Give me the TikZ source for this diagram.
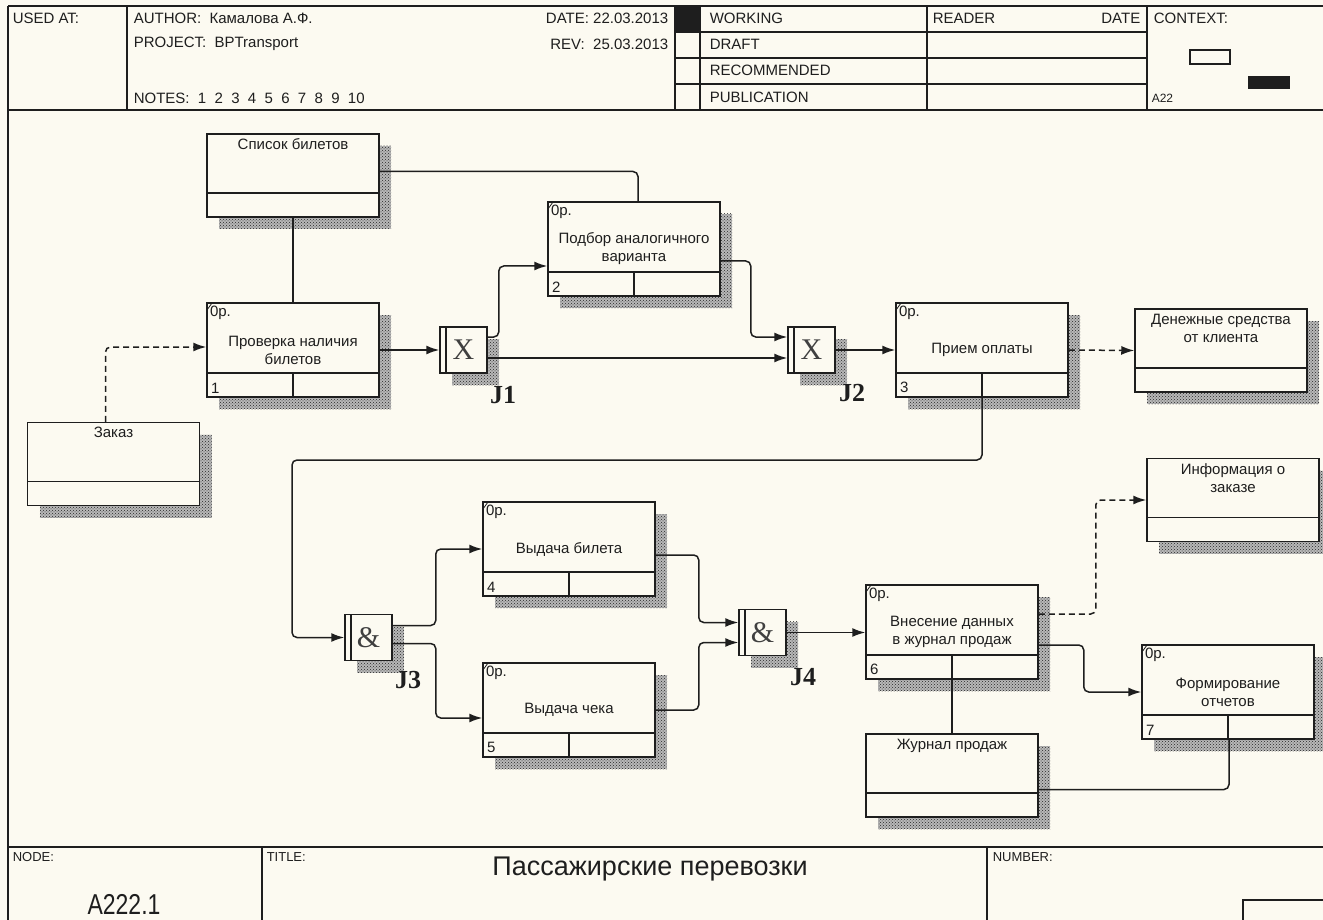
\documentclass[tikz,border=0pt]{standalone}
\usepackage{fontspec}
\usepackage{graphicx}
\setmainfont{Liberation Sans}
\newfontfamily\serf{Liberation Serif}
\usetikzlibrary{arrows.meta,shadows,patterns}
\definecolor{bg}{RGB}{252,250,241}
\definecolor{ln}{RGB}{30,30,30}
\begin{document}
\begin{tikzpicture}[x=1pt,y=-1pt,line width=1.5pt,color=ln]
	\tikzset{
		sh/.style={general shadow={shadow xshift=12pt,shadow yshift=-12pt,fill=black!28},
			general shadow={shadow xshift=12pt,shadow yshift=-12pt,pattern=crosshatch dots,pattern color=black!85}},
		t/.style={font=\fontsize{15}{18}\selectfont,inner sep=0pt},
		act/.style={draw,fill=bg,sh,minimum width=172pt,minimum height=94pt,align=center,t,
			label={[t,anchor=north west,inner sep=3pt]north west:0р.},
			label={[t,anchor=south west,inner sep=4pt]south west:#1},
			path picture={
				\draw ([yshift=24pt]path picture bounding box.south west) -- ([yshift=24pt]path picture bounding box.south east);
				\draw ([yshift=24pt]path picture bounding box.south) -- (path picture bounding box.south);
				\draw[line width=0.8pt] ([yshift=-7pt]path picture bounding box.north west) -- ++(5pt,7pt);
			}},
		ref/.style={draw,fill=bg,sh,minimum width=172pt,minimum height=83pt,
			label={[t,anchor=north,align=center,inner sep=5pt]north:{#1}},
			path picture={
				\draw ([yshift=24pt]path picture bounding box.south west) -- ([yshift=24pt]path picture bounding box.south east);
			}},
		jn/.style={draw,fill=bg,sh,minimum width=47pt,minimum height=46pt,inner sep=0pt,text=black!75,
			font=\serf\fontsize{30}{30}\selectfont,
			path picture={\draw ([xshift=6pt]path picture bounding box.north west) -- ([xshift=6pt]path picture bounding box.south west);}},
		jl/.style={font=\serf\bfseries\fontsize{26}{26}\selectfont,inner sep=0pt},
		f/.style={->,>={Latex[length=13pt,width=9pt]},rounded corners=5pt},
		g/.style={rounded corners=5pt},
		d/.style={f,dash pattern=on 6pt off 4pt}
	}
	\fill[bg] (0,0) rectangle (1323,920);
	\useasboundingbox (0,0) rectangle (1323,920);
	\clip (0,0) rectangle (1323,920);

	\draw (8,6) -- (1323,6);
	\draw (8,6) -- (8,920);
	\draw (8,110) -- (1323,110);
	\draw (127,6) -- (127,110);
	\draw (675,6) -- (675,110);
	\draw (700,6) -- (700,110);
	\draw (927,6) -- (927,110);
	\draw (1147,6) -- (1147,110);
	\foreach \y in {32,58,84} \draw (675,\y) -- (1147,\y);
	\fill (675,6) rectangle (700,32);
	\draw (1190,50) rectangle (1230,64);
	\fill (1248,76) rectangle (1290,89);

	\node[t,anchor=west] (usedat) at (12,18) {USED AT:};
	\node[t,anchor=west] (author) at (133,18) {AUTHOR:~~Камалова А.Ф.};
	\node[t,anchor=west] (project) at (133,44) {PROJECT:~~BPTransport};
	\node[t,anchor=west] (notes) at (133,98) {NOTES:~~1~~2~~3~~4~~5~~6~~7~~8~~9~~10};
	\node[t,anchor=east] (date) at (669,18) {DATE: 22.03.2013};
	\node[t,anchor=east] (rev) at (669,44) {REV:~~25.03.2013};
	\node[t,anchor=west] (working) at (709,18) {WORKING};
	\node[t,anchor=west] (draft) at (709,44) {DRAFT};
	\node[t,anchor=west] (recom) at (709,70) {RECOMMENDED};
	\node[t,anchor=west] (publ) at (709,97) {PUBLICATION};
	\node[t,anchor=west] (reader) at (932,18) {READER};
	\node[t,anchor=east] (rdate) at (1141,18) {DATE};
	\node[t,anchor=west] (context) at (1153,18) {CONTEXT:};
	\node[t,anchor=west,font=\fontsize{12}{14}\selectfont] (ctxnode) at (1151,98) {A22};

	\draw (8,847) -- (1323,847);
	\draw (262,847) -- (262,920);
	\draw (987,847) -- (987,920);
	\draw (1243,921) |- (1324,900);
	\node[t,anchor=west,font=\fontsize{13}{15}\selectfont] (nodelbl) at (12,857) {NODE:};
	\node[t,anchor=west,font=\fontsize{13}{15}\selectfont] (titlelbl) at (266,857) {TITLE:};
	\node[t,anchor=west,font=\fontsize{13}{15}\selectfont] (numlbl) at (992,857) {NUMBER:};
	\node[inner sep=0pt,font=\fontsize{27}{30}\selectfont] (title) at (650,869) {Пассажирские перевозки};
	\node[inner sep=0pt,font=\fontsize{23}{26}\selectfont] (nodeno) at (124,904) {\scalebox{1}[1.25]{A222.1}};

	\node[ref={Список билетов}] (lst) at (293,175.5) {};
	\node[ref={Заказ}] (zak) at (113.5,464) {};
	\node[ref={Денежные средства\\от клиента}] (den) at (1221,350.5) {};
	\node[ref={Информация о\\заказе}] (inf) at (1233,500) {};
	\node[ref={Журнал продаж}] (jur) at (952,775.5) {};

	\node[act=1] (chk) at (293,350) {Проверка наличия\\билетов};
	\node[act=2] (pdb) at (634,249) {Подбор аналогичного\\варианта};
	\node[act=3] (opl) at (982,350) {Прием оплаты};
	\node[act=4] (bil) at (569,549) {Выдача билета};
	\node[act=5] (chek) at (569,710) {Выдача чека};
	\node[act=6] (zhr) at (952,632) {Внесение данных\\в журнал продаж};
	\node[act=7] (otch) at (1228,692) {Формирование\\отчетов};

	\node[jn] (j1) at (463.5,350) {X};
	\node[jn] (j2) at (811.5,350) {X};
	\node[jn] (j3) at (368.5,637.5) {\&};
	\node[jn] (j4) at (762.5,632.5) {\&};
	\node[jl] (j1l) at (503,395) {J1};
	\node[jl] (j2l) at (852,393) {J2};
	\node[jl] (j3l) at (408,680) {J3};
	\node[jl] (j4l) at (803,677) {J4};

	\coordinate (bend) at (292,460);

	\draw[g] (lst.south) -- (chk.north);
	\draw[g] ([yshift=4pt]lst.east) -| ([xshift=4pt]pdb.north);
	\draw[d] ([xshift=-8pt]zak.north) |- ([yshift=3pt]chk.west);
	\draw[f] (chk.east) -- (j1.west);
	\draw[f] ([yshift=13pt]j1.east) -- ++(11,0) |- ([yshift=-17pt]pdb.west);
	\draw[f] ([yshift=-8pt]j1.east) -- ([yshift=-8pt]j2.west);
	\draw[f] ([yshift=-12pt]pdb.east) -- ++(30,0) |- ([yshift=13pt]j2.west);
	\draw[f] (j2.east) -- (opl.west);
	\draw[d] (opl.east) -- (den.west);
	\draw[f] (opl.south) |- (bend) |- (j3.west);
	\draw[f] ([yshift=12pt]j3.east) -- ++(43,0) |- (bil.west);
	\draw[f] ([yshift=-6pt]j3.east) -- ++(43,0) |- ([yshift=-8pt]chek.west);
	\draw[f] ([yshift=-6pt]bil.east) -- ++(43,0) |- ([yshift=10pt]j4.west);
	\draw[f] (chek.east) -- ++(43,0) |- ([yshift=-10pt]j4.west);
	\draw[f] (j4.east) -- (j4.east -| zhr.west);
	\draw[d] ([yshift=18pt]zhr.east) -- ++(57,0) |- (inf.west);
	\draw[f] ([yshift=-13pt]zhr.east) -- ++(45,0) |- (otch.west);
	\draw[g] (zhr.south) -- (jur.north);
	\draw[g] ([yshift=-14pt]jur.east) -| ([xshift=1pt]otch.south);
\end{tikzpicture}
\end{document}
